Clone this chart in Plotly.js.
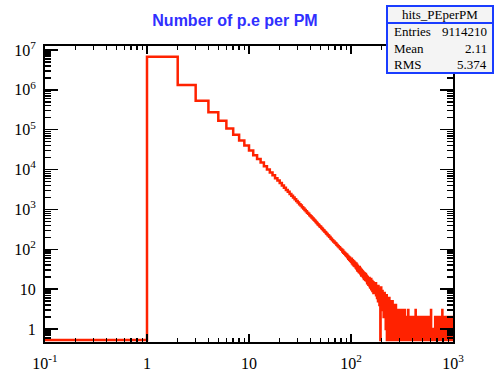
<!DOCTYPE html>
<html><head><meta charset="utf-8">
<script src="https://cdn.plot.ly/plotly-3.0.1.min.js"></script>
<style>html,body{margin:0;padding:0;background:#fff}#chart{width:496px;height:371px}</style>
</head><body><div id="chart"></div>
<script>
// ---- data ----
const histName = 'hits_PEperPM';
const histTitle = 'Number of p.e per PM';
const statLabels = ['Entries', 'Mean', 'RMS'];
const statValues = ['9114210', '2.11', '5.374'];
const binLow = 0;
const binWidth = 1;
// bins 0..100
const countsHead = [0,
  6800000, 1330000, 530000, 275000, 168000, 107000, 75000, 54000, 40000, 30000,
  23000, 18500, 15000, 12200, 10100, 8500, 7200, 6100, 5300, 4600,
  3960, 3500, 3080, 2760, 2450, 2220, 1980, 1810, 1630, 1500,
  1350, 1260, 1140, 1060, 970, 905, 830, 780, 720, 675,
  628, 592, 548, 520, 484, 460, 428, 410, 380, 366,
  341, 329, 305, 296, 275, 268, 250, 243, 226, 221,
  206, 203, 188, 185, 172, 170, 158, 157, 146, 145,
  139, 131, 129, 121, 120, 113, 112, 105, 104, 97,
  99, 88, 93, 82, 86, 77, 81, 72, 76, 68,
  73, 63, 68, 58, 64, 55, 61, 52, 57, 49];
// bins 101..300
const countsMid = [
  58, 45, 53, 42, 51, 40, 49, 38, 46, 44,
  35, 44, 33, 41, 30, 38, 29, 36, 27, 34,
  36, 26, 33, 24, 31, 22, 30, 23, 28, 21,
  27, 20, 26, 18, 25, 19, 23, 17, 24, 18,
  22, 16, 21, 14, 20, 15, 19, 13, 18, 16,
  19, 12, 17, 11, 16, 13, 18, 10, 15, 12,
  16, 9, 14, 11, 15, 8, 13, 10, 14, 9,
  13, 8, 12, 9, 14, 7, 11, 8, 12, 6,
  11, 7, 10, 5, 12, 6, 9, 8, 10, 4,
  9, 5, 10, 0, 8, 6, 11, 4, 9, 6,
  8, 4, 9, 5, 7, 3, 8, 6, 2, 7,
  7, 3, 8, 4, 6, 2, 7, 5, 1, 6,
  6, 2, 7, 4, 0, 5, 3, 6, 1, 5,
  6, 2, 4, 0, 5, 3, 6, 1, 4, 2,
  5, 1, 4, 0, 3, 5, 2, 0, 4, 1,
  4, 0, 3, 2, 5, 1, 3, 0, 4, 2,
  3, 0, 4, 1, 2, 0, 3, 2, 0, 4,
  2, 0, 3, 1, 4, 0, 2, 3, 0, 1,
  3, 0, 2, 1, 0, 3, 2, 0, 1, 3,
  0, 2, 3, 0, 1, 2, 0, 3, 1, 0];
// bins 301..500
const countsTail1 = [
  2, 0, 1, 3, 0, 1, 1, 0, 2, 0,
  0, 1, 1, 0, 2, 1, 0, 3, 0, 1,
  1, 0, 1, 2, 0, 1, 1, 0, 0, 2,
  0, 1, 1, 0, 1, 0, 3, 1, 0, 1,
  1, 0, 2, 0, 1, 1, 0, 1, 0, 0,
  1, 2, 0, 1, 0, 1, 1, 0, 1, 0,
  0, 1, 0, 3, 1, 0, 1, 1, 0, 1,
  1, 0, 1, 0, 1, 2, 0, 1, 0, 1,
  1, 0, 0, 1, 1, 0, 1, 0, 2, 1,
  0, 1, 1, 0, 0, 1, 0, 2, 1, 0,
  1, 0, 1, 0, 1, 0, 0, 1, 2, 0,
  1, 0, 1, 0, 1, 0, 0, 1, 0, 1,
  0, 1, 0, 1, 0, 0, 1, 1, 0, 3,
  0, 1, 0, 0, 1, 1, 0, 1, 0, 0,
  1, 0, 2, 0, 1, 0, 0, 1, 0, 1,
  0, 0, 0, 0, 0, 0, 0, 0, 0, 0,
  0, 0, 0, 0, 0, 1, 0, 2, 0, 1,
  0, 1, 0, 0, 1, 0, 1, 0, 1, 0,
  0, 1, 0, 2, 0, 0, 1, 0, 1, 0,
  1, 0, 0, 1, 0, 1, 0, 1, 0, 0];
// bins 501..999
const countsTail2 = [
  1, 0, 2, 0, 0, 1, 0, 1, 0, 0,
  0, 1, 0, 0, 1, 0, 1, 0, 0, 1,
  0, 0, 1, 0, 1, 0, 0, 2, 0, 0,
  1, 0, 0, 1, 0, 0, 1, 0, 0, 0,
  0, 0, 0, 0, 0, 0, 0, 0, 0, 0,
  0, 0, 0, 0, 0, 0, 1, 0, 2, 0,
  1, 0, 0, 1, 0, 1, 0, 0, 0, 1,
  0, 2, 0, 0, 1, 0, 0, 1, 0, 0,
  0, 1, 0, 0, 0, 1, 0, 1, 0, 0,
  1, 0, 0, 1, 0, 0, 2, 0, 0, 1,
  0, 0, 1, 0, 0, 1, 0, 0, 3, 0,
  1, 0, 0, 0, 1, 0, 0, 1, 0, 0,
  0, 1, 0, 0, 1, 0, 0, 0, 1, 0,
  0, 1, 0, 0, 0, 0, 0, 0, 0, 0,
  0, 0, 0, 0, 0, 0, 0, 0, 0, 0,
  0, 0, 0, 0, 0, 0, 0, 0, 0, 0,
  0, 0, 0, 0, 0, 1, 0, 0, 2, 0,
  1, 0, 0, 1, 0, 0, 0, 2, 0, 0,
  0, 1, 0, 0, 1, 0, 0, 0, 1, 0,
  0, 0, 2, 0, 0, 1, 0, 0, 0, 1,
  0, 0, 0, 1, 0, 0, 1, 0, 0, 0,
  2, 0, 0, 0, 1, 0, 0, 1, 0, 0,
  0, 1, 0, 0, 0, 0, 1, 0, 0, 1,
  0, 0, 1, 0, 0, 1, 0, 0, 0, 2,
  0, 0, 0, 1, 0, 0, 0, 1, 0, 0,
  1, 0, 0, 0, 0, 0, 0, 0, 1, 0,
  0, 0, 1, 0, 0, 0, 1, 0, 0, 2,
  0, 0, 0, 1, 0, 0, 0, 1, 0, 0,
  0, 1, 0, 0, 0, 3, 0, 0, 0, 1,
  0, 0, 1, 0, 0, 0, 0, 1, 0, 0,
  2, 0, 0, 0, 1, 0, 0, 0, 1, 0,
  0, 0, 1, 0, 0, 0, 0, 0, 0, 0,
  1, 0, 0, 0, 0, 1, 0, 0, 0, 1,
  0, 0, 2, 0, 0, 0, 1, 0, 0, 0,
  0, 1, 0, 0, 0, 1, 0, 0, 0, 0,
  0, 0, 0, 1, 0, 0, 0, 0, 1, 0,
  0, 2, 0, 0, 0, 1, 0, 0, 0, 0,
  1, 0, 0, 0, 1, 0, 0, 0, 2, 0,
  0, 0, 1, 0, 0, 0, 0, 1, 0, 0,
  0, 0, 0, 1, 0, 0, 0, 1, 0, 0,
  1, 0, 0, 0, 0, 1, 0, 0, 0, 1,
  0, 0, 2, 0, 0, 0, 0, 1, 0, 0,
  0, 1, 0, 0, 0, 0, 1, 0, 0, 0,
  2, 0, 0, 0, 1, 0, 0, 0, 0, 1,
  0, 0, 0, 1, 0, 0, 0, 2, 0, 0,
  0, 1, 0, 0, 0, 0, 1, 0, 0, 0,
  0, 0, 1, 0, 0, 2, 0, 0, 0, 0,
  1, 0, 0, 0, 0, 1, 0, 0, 1, 0,
  0, 0, 2, 0, 0, 0, 0, 1, 0, 0,
  0, 1, 0, 0, 0, 1, 0, 0, 0];
const xTickVals = [0.1, 1, 10, 100, 1000];
const xTickText = ['10<sup>-1</sup>', '1', '10', '10<sup>2</sup>', '10<sup>3</sup>'];
const yTickVals = [1, 10, 100, 1e3, 1e4, 1e5, 1e6, 1e7];
const yTickText = ['1', '10', '10<sup>2</sup>', '10<sup>3</sup>', '10<sup>4</sup>', '10<sup>5</sup>', '10<sup>6</sup>', '10<sup>7</sup>'];

// ---- build step line ----
const counts = countsHead.concat(countsMid, countsTail1, countsTail2);
const FLOOR = 0.53; // empty bins drawn at the bottom of the frame (ROOT style)
const xs = [], ys = [];
counts.forEach((c, i) => {
  let e = binLow + i * binWidth;
  if (e <= 0) e = 0.01;
  xs.push(e);
  ys.push(c > 0 ? c : FLOOR);
});
xs.push(binLow + counts.length * binWidth);
ys.push(ys[ys.length - 1]);

// minor ticks
const minorX = [];
[0.1, 1, 10, 100].forEach(d => { for (let m = 2; m <= 9; m++) minorX.push(m * d); });
const minorY = [0.5, 0.6, 0.7, 0.8, 0.9];
[1, 10, 100, 1e3, 1e4, 1e5, 1e6].forEach(d => { for (let m = 2; m <= 9; m++) minorY.push(m * d); });

// ---- layout helpers (pixels -> paper) ----
const L = 45, R = 453, T = 46, B = 342;
const px = v => (v - L) / (R - L);
const py = v => (B - v) / (B - T);

const serif = 'Liberation Serif, Times New Roman, serif';
const tickFont = {family: serif, size: 16, color: '#000'};
const XR = [-1, 3], YR = [-0.325, 7.1];

const common = {type: 'log', showgrid: false, zeroline: false, showline: true, linewidth: 2,
  linecolor: '#000', ticks: 'inside', tickcolor: '#000', tickwidth: 1.5, mirror: 'ticks', fixedrange: true};

const layout = {
  width: 496, height: 371,
  margin: {l: L, r: 496 - R, t: T, b: 371 - B, pad: 0},
  paper_bgcolor: '#fff', plot_bgcolor: '#fff',
  showlegend: false,
  title: {text: histTitle, x: 235 / 496, xref: 'container', xanchor: 'center',
    y: 1 - 20 / 371, yref: 'container', yanchor: 'middle',
    font: {family: 'Liberation Sans, Arial, sans-serif', size: 16, weight: 'bold', color: '#3030ff'}},
  xaxis: Object.assign({}, common, {range: XR, tickvals: xTickVals, ticktext: xTickText, ticklen: 8,
    tickfont: tickFont, ticklabelstandoff: 6}),
  yaxis: Object.assign({}, common, {range: YR, tickvals: yTickVals, ticktext: yTickText, ticklen: 13,
    tickfont: tickFont, ticklabelstandoff: 4}),
  xaxis2: Object.assign({}, common, {range: XR, overlaying: 'x', anchor: 'y', side: 'bottom',
    tickvals: minorX, ticklen: 4, showticklabels: false}),
  yaxis2: Object.assign({}, common, {range: YR, overlaying: 'y', anchor: 'x', side: 'left',
    tickvals: minorY, ticklen: 6, showticklabels: false}),
  shapes: [
    {type: 'rect', xref: 'paper', yref: 'paper', x0: px(387), x1: px(493), y0: py(73), y1: py(6),
      fillcolor: '#f4f4f4', line: {color: '#1a3cff', width: 2}, layer: 'above'},
    {type: 'line', xref: 'paper', yref: 'paper', x0: px(387), x1: px(493), y0: py(23), y1: py(23),
      line: {color: '#1a3cff', width: 2}, layer: 'above'}
  ],
  annotations: [
    {text: histName, xref: 'paper', yref: 'paper', x: px(440), y: py(15), xanchor: 'center', yanchor: 'middle',
      showarrow: false, font: {family: serif, size: 13, color: '#000'}}
  ]
};
const rowY = [32, 48, 64];
statLabels.forEach((lab, i) => {
  layout.annotations.push({text: lab, xref: 'paper', yref: 'paper', x: px(392), y: py(rowY[i]),
    xanchor: 'left', yanchor: 'middle', showarrow: false, font: {family: serif, size: 13, color: '#000'}});
  layout.annotations.push({text: statValues[i], xref: 'paper', yref: 'paper', x: px(489), y: py(rowY[i]),
    xanchor: 'right', yanchor: 'middle', showarrow: false, font: {family: serif, size: 13, color: '#000'}});
});

const traces = [
  {type: 'scatter', mode: 'lines', x: xs, y: ys, line: {shape: 'hv', color: '#ff2200', width: 2.5}, hoverinfo: 'skip'},
  {type: 'scatter', mode: 'lines', x: [], y: [], xaxis: 'x2', yaxis: 'y2', hoverinfo: 'skip'}
];
Plotly.newPlot('chart', traces, layout, {staticPlot: true, displayModeBar: false});
</script>
</body></html>
